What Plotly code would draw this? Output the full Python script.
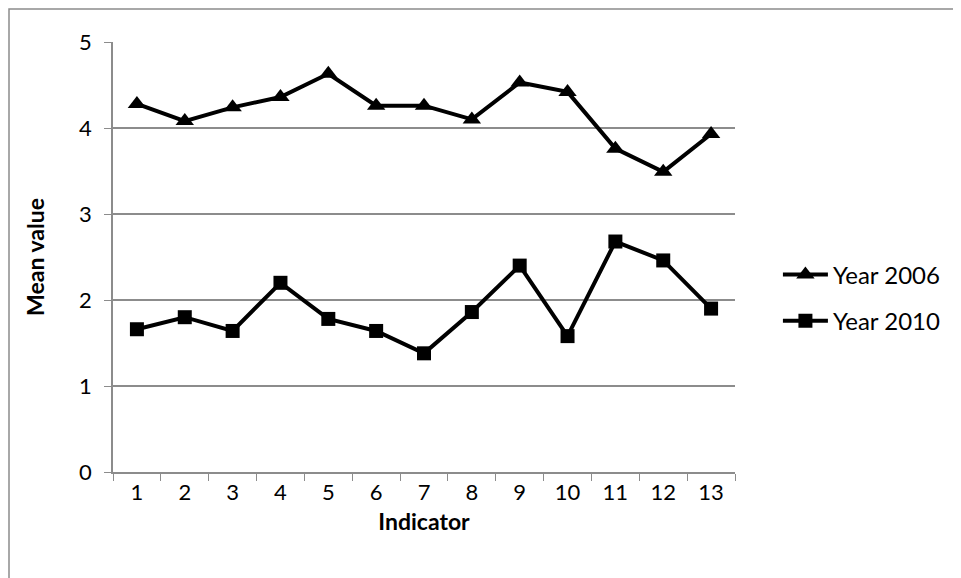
import plotly.graph_objects as go

indicators = [str(i) for i in range(1, 14)]
year_2006 = [4.28, 4.08, 4.24, 4.36, 4.63, 4.26, 4.26, 4.10, 4.53, 4.42, 3.76, 3.49, 3.93]
year_2010 = [1.66, 1.80, 1.64, 2.20, 1.78, 1.64, 1.38, 1.86, 2.40, 1.58, 2.68, 2.46, 1.90]
y_ticks = [0, 1, 2, 3, 4, 5]

font_family = "Lato, 'Open Sans', sans-serif"
grey = "#8c8c8c"

fig = go.Figure()
fig.add_trace(go.Scatter(
    x=indicators, y=year_2006, name="Year 2006", mode="lines+markers",
    legendgroup="a",
    line=dict(color="black", width=4),
    marker=dict(symbol="triangle-up", size=16, color="black"),
))
fig.add_trace(go.Scatter(
    x=indicators, y=year_2010, name="Year 2010", mode="lines+markers",
    legendgroup="b",
    line=dict(color="black", width=4),
    marker=dict(symbol="square", size=14, color="black"),
))

L, R, T, B = 105, 234, 34, 114
pw = 961 - L - R
ph = 578 - T - B

fig.update_layout(
    width=961, height=578,
    margin=dict(l=L, r=R, t=T, b=B),
    paper_bgcolor="white", plot_bgcolor="white",
    font=dict(family=font_family, size=22, color="black"),
    showlegend=True,
    legend=dict(x=1.069, y=0.405, xanchor="left", yanchor="middle",
                font=dict(size=24), traceorder="grouped", tracegroupgap=12,
                itemwidth=45, bgcolor="rgba(0,0,0,0)"),
    xaxis=dict(
        type="category", range=[-0.5, 12.5],
        tickson="boundaries", ticks="outside", ticklen=7, tickcolor=grey,
        showline=True, linecolor=grey, linewidth=1.5,
        showgrid=False, zeroline=False,
        title=dict(text="<b>Indicator</b>", font=dict(size=23), standoff=10),
        tickfont=dict(size=22),
    ),
    yaxis=dict(
        range=[0, 5], tickvals=y_ticks,
        ticks="outside", ticklen=7, tickcolor=grey,
        showline=True, linecolor=grey, linewidth=1.5,
        showgrid=True, gridcolor=grey, gridwidth=1.5,
        zeroline=False, ticklabelstandoff=8,
        title=dict(text="<b>Mean value</b>", font=dict(size=23), standoff=28),
        tickfont=dict(size=22),
    ),
    shapes=[dict(type="rect", xref="paper", yref="paper",
                 x0=-(L - 1) / pw, x1=1.6, y0=-0.6, y1=1 + (T - 1) / ph,
                 line=dict(color=grey, width=1.5), fillcolor="rgba(0,0,0,0)",
                 layer="below")],
)

fig.write_html("out.html")
